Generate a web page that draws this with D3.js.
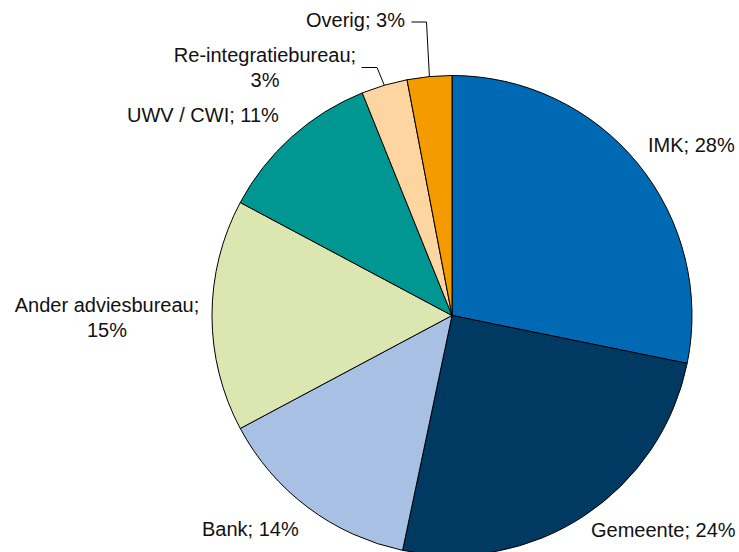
<!DOCTYPE html>
<html>
<head>
<meta charset="utf-8">
<script src="https://cdn.jsdelivr.net/npm/d3@7"></script>
<style>
  html, body { margin: 0; padding: 0; background: #fff; }
  svg { display: block; }
  text { font-family: "Liberation Sans", Arial, sans-serif; font-size: 20px; fill: #111; }
</style>
</head>
<body>
<svg id="vis" width="739" height="552"></svg>
<script>
// slices, clockwise from 12 o'clock
const categories = ["IMK", "Gemeente", "Bank", "Ander adviesbureau", "UWV / CWI", "Re-integratiebureau", "Overig"];
const values = [28.2, 25.1, 13.9, 15.6, 11.1, 3.1, 3.0];
const pctLabels = ["28%", "24%", "14%", "15%", "11%", "3%", "3%"];
const colors = ["#0069b4", "#003a63", "#a7c0e3", "#dce6b1", "#009793", "#fdd5a1", "#f49b00"];

const width = 739;
const height = 552;
const cx = 452, cy = 315.5, radius = 240;

// label layout (x, first baseline, anchor, wrap?) relative to svg
const labelLayout = [
  { x: 648, y: 152, anchor: "start", wrap: false },
  { x: 591, y: 537, anchor: "start", wrap: false },
  { x: 202, y: 536, anchor: "start", wrap: false },
  { x: 107, y: 312, anchor: "middle", wrap: true },
  { x: 127, y: 122, anchor: "start", wrap: false },
  { x: 265, y: 62, anchor: "middle", wrap: true },
  { x: 306, y: 27, anchor: "start", wrap: false }
];

// leader lines: elbow point for the small slices
const leaders = {
  5: { start: [361.5, 67.5], elbow: [377, 67.5] },
  6: { start: [411.5, 22], elbow: [426.5, 22] }
};

const data = categories.map((c, i) => ({ name: c, value: values[i], pct: pctLabels[i], color: colors[i], idx: i }));

const svg = d3.select("svg#vis");
const plot = svg.append("g").attr("transform", "translate(" + cx + "," + cy + ")");

const pie = d3.pie().sort(null).value(d => d.value);
const arc = d3.arc().innerRadius(0).outerRadius(radius);
const edgeArc = d3.arc().innerRadius(radius).outerRadius(radius);

const arcs = pie(data);

plot.selectAll("path.slice")
  .data(arcs)
  .enter()
  .append("path")
  .attr("class", "slice")
  .attr("d", arc)
  .attr("fill", d => d.data.color)
  .attr("stroke", "#000")
  .attr("stroke-width", 1)
  .attr("stroke-linejoin", "round");

// leader lines
arcs.forEach(function(d) {
  const l = leaders[d.data.idx];
  if (!l) return;
  const p = edgeArc.centroid(d);
  const end = [p[0] + cx, p[1] + cy];
  svg.append("path")
    .attr("d", d3.line()([l.start, l.elbow, end]))
    .attr("fill", "none")
    .attr("stroke", "#000")
    .attr("stroke-width", 1);
});

// labels
const labels = svg.selectAll("text.label")
  .data(data)
  .enter()
  .append("text")
  .attr("class", "label")
  .attr("text-anchor", d => labelLayout[d.idx].anchor)
  .attr("x", d => labelLayout[d.idx].x)
  .attr("y", d => labelLayout[d.idx].y);

labels.each(function(d) {
  const t = d3.select(this);
  const lay = labelLayout[d.idx];
  if (lay.wrap) {
    t.append("tspan").attr("x", lay.x).attr("dy", 0).text(d.name + ";");
    t.append("tspan").attr("x", lay.x).attr("dy", 24.5).text(d.pct);
  } else {
    t.text(d.name + "; " + d.pct);
  }
});
</script>
</body>
</html>
